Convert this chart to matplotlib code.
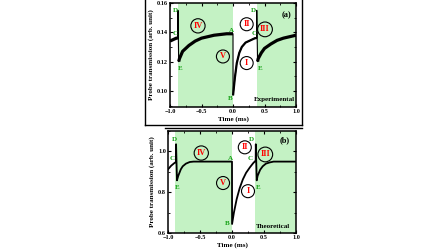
import numpy as np
import matplotlib
matplotlib.use('Agg')
import matplotlib.pyplot as plt
from matplotlib.lines import Line2D
from matplotlib.ticker import MultipleLocator, FormatStrFormatter

plt.rcParams['font.family'] = ['Liberation Serif', 'DejaVu Serif']
plt.rcParams['font.weight'] = 'bold'

# experimental trace (a)
T_EXP = [-1.0, -0.95, -0.9, -0.876, -0.874, -0.862, -0.85, -0.8, -0.75, -0.7, -0.6, -0.5,
         -0.4, -0.3, -0.2, -0.1, 0.0, 0.001, 0.03, 0.06, 0.1, 0.14, 0.2, 0.25, 0.3, 0.35,
         0.375, 0.377, 0.39, 0.4, 0.45, 0.5, 0.6, 0.7, 0.8, 0.9, 1.0]
V_EXP = [0.134, 0.135, 0.136, 0.136, 0.155, 0.120, 0.122, 0.127, 0.129, 0.131, 0.134, 0.136,
         0.137, 0.138, 0.1385, 0.139, 0.139, 0.097, 0.109, 0.119, 0.126, 0.130, 0.133, 0.134, 0.135, 0.136,
         0.136, 0.155, 0.120, 0.122, 0.126, 0.129, 0.132, 0.1345, 0.136, 0.137, 0.138]

# theoretical trace (b)
T_TH = [-1.0, -0.95, -0.9, -0.876, -0.874, -0.86, -0.84, -0.8, -0.77, -0.72, -0.66, -0.6, -0.3, 0.0,
        0.001, 0.03, 0.073, 0.12, 0.17, 0.22, 0.28, 0.33, 0.37, 0.372, 0.386, 0.4, 0.44, 0.48, 0.53,
        0.59, 0.65, 0.8, 1.0]
V_TH = [0.912, 0.93, 0.943, 0.948, 1.035, 0.858, 0.88, 0.912, 0.927, 0.940, 0.948, 0.95, 0.95, 0.95,
        0.644, 0.70, 0.766, 0.82, 0.863, 0.895, 0.922, 0.942, 0.955, 1.035, 0.858, 0.88, 0.91, 0.927, 0.94,
        0.946, 0.95, 0.95, 0.95]

SHADE_A = [(-0.878, 0.0), (0.376, 1.0)]
SHADE_B = [(-0.89, 0.0), (0.36, 1.0)]

# letter labels: (text, t, value)
LETTERS_A = [('D', -0.92, 0.155), ('C', -0.92, 0.139), ('E', -0.84, 0.1155), ('A', -0.03, 0.1415),
             ('B', -0.04, 0.0945), ('D', 0.33, 0.155), ('C', 0.33, 0.139), ('E', 0.43, 0.1155)]
LETTERS_B = [('D', -0.9, 1.058), ('C', -0.94, 0.967), ('E', -0.86, 0.822), ('A', -0.03, 0.967),
             ('B', -0.07, 0.646), ('D', 0.31, 1.06), ('C', 0.29, 0.967), ('E', 0.41, 0.822)]
ROMAN_A = [('IV', -0.556, 0.1444), ('V', -0.16, 0.1235), ('II', 0.217, 0.1455),
           ('I', 0.217, 0.119), ('III', 0.508, 0.142)]
ROMAN_B = [('IV', -0.48, 0.992), ('V', -0.14, 0.845), ('II', 0.20, 1.02),
           ('I', 0.25, 0.805), ('III', 0.52, 0.985)]

GREEN = '#c4f2c4'
LETTER_COL = '#12a012'


def style_axis(ax, ylim, ymaj, ymin):
    ax.set_xlim(-1.0, 1.0)
    ax.set_ylim(*ylim)
    ax.xaxis.set_major_locator(MultipleLocator(0.5))
    ax.xaxis.set_minor_locator(MultipleLocator(0.25))
    ax.yaxis.set_major_locator(MultipleLocator(ymaj))
    ax.yaxis.set_minor_locator(MultipleLocator(ymin))
    ax.tick_params(which='both', direction='in', top=True, right=True, labelsize=4.5, pad=1.5)
    ax.tick_params(which='major', length=2.5, width=0.8)
    ax.tick_params(which='minor', length=1.5, width=0.6)
    for s in ax.spines.values():
        s.set_linewidth(1.1)
    ax.set_xlabel('Time (ms)', fontsize=5, fontweight='bold', labelpad=1.5)
    ax.set_ylabel('Probe transmission (arb. unit)', fontsize=5, fontweight='bold', labelpad=2)


def annotate(ax, letters, romans):
    for txt, x, y in letters:
        ax.text(x, y, txt, color=LETTER_COL, fontsize=5, fontweight='bold', ha='center', va='center')
    for txt, x, y in romans:
        ax.text(x, y, txt, color='red', fontsize=6, fontweight='bold', ha='center', va='center',
                bbox=dict(boxstyle='circle,pad=0.3', fc='none', ec='black', lw=0.8))


fig = plt.figure(figsize=(4.48, 2.52), dpi=100)

ax1 = fig.add_axes([170/448, 1-107/252, 126/448, 104/252])
for a, b in SHADE_A:
    ax1.axvspan(a, b, color=GREEN, lw=0)
t = np.array(T_EXP)
v = np.array(V_EXP)
# thin line through the whole trace (spikes stay thin), thick noisy band elsewhere
ax1.plot(t, v, color='black', lw=0.8)
ax1.plot(t[:4], v[:4], color='black', lw=2.3, solid_capstyle='butt')
ax1.plot(t[5:17], v[5:17], color='black', lw=2.3, solid_capstyle='butt')
ax1.plot(t[17:27], v[17:27], color='black', lw=1.6, solid_capstyle='butt')
ax1.plot(t[28:], v[28:], color='black', lw=2.3, solid_capstyle='butt')
style_axis(ax1, (0.089, 0.16), 0.02, 0.01)
ax1.yaxis.set_major_formatter(FormatStrFormatter('%.2f'))
annotate(ax1, LETTERS_A, ROMAN_A)
ax1.text(0.85, 0.152, '(a)', fontsize=6, fontweight='bold', ha='center', va='center')
ax1.text(0.66, 0.094, 'Experimental', fontsize=5, fontweight='bold', ha='center', va='center')

ax2 = fig.add_axes([168/448, 1-233/252, 128/448, 102/252])
for a, b in SHADE_B:
    ax2.axvspan(a, b, color=GREEN, lw=0)
ax2.plot(T_TH, V_TH, color='black', lw=1.3)
style_axis(ax2, (0.6, 1.1), 0.2, 0.1)
ax2.yaxis.set_major_formatter(FormatStrFormatter('%.1f'))
annotate(ax2, LETTERS_B, ROMAN_B)
ax2.text(0.83, 1.053, '(b)', fontsize=6, fontweight='bold', ha='center', va='center')
ax2.text(0.64, 0.63, 'Theoretical', fontsize=5, fontweight='bold', ha='center', va='center')

# panel frames
def fline(x0, y0, x1, y1):
    fig.add_artist(Line2D([x0/448, x1/448], [1-y0/252, 1-y1/252], color='black', lw=1.0))

fline(145, 0, 145, 125)
fline(302, 0, 302, 125)
fline(145, 125, 302, 125)
fline(165, 128, 302, 128)

fig.savefig('out.png', dpi=100)
